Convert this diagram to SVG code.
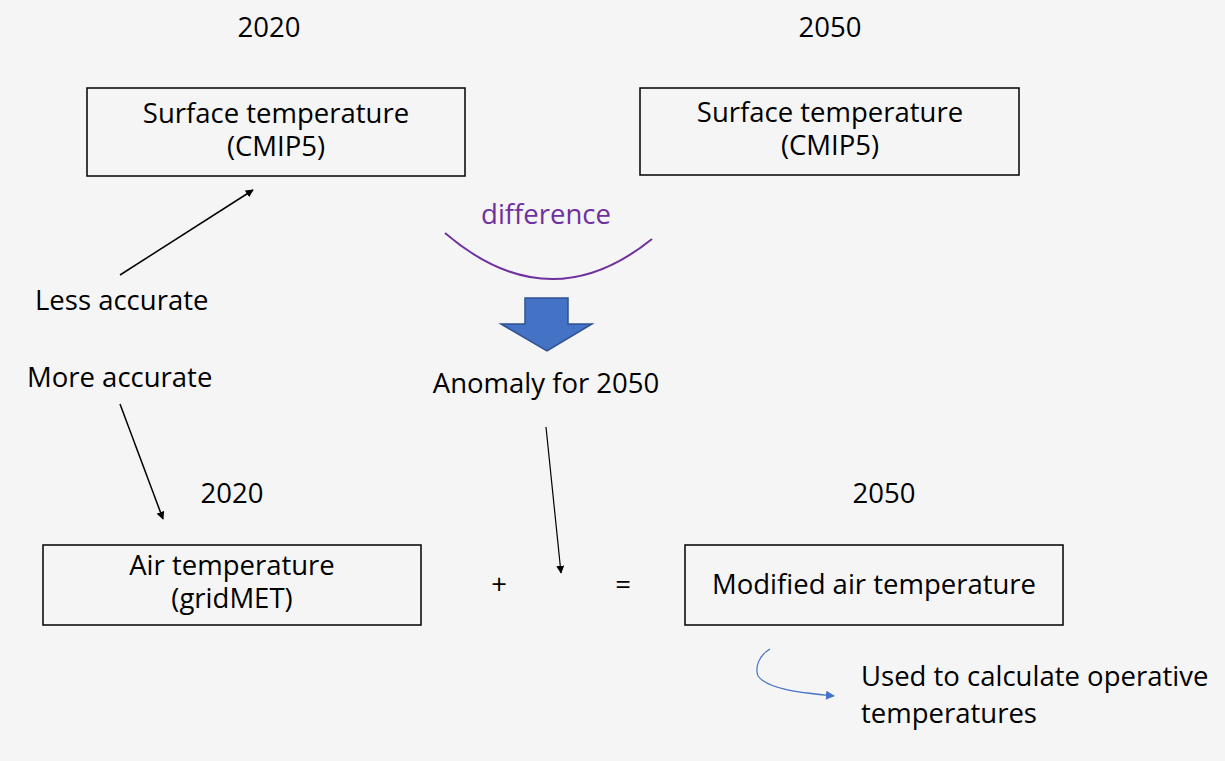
<svg xmlns="http://www.w3.org/2000/svg" width="1225" height="761" viewBox="0 0 1225 761">
<defs>
<style>
text{font-family:"Open Sans","Noto Sans","Liberation Sans",sans-serif;font-size:27.5px;fill:#000}
.c{text-anchor:middle}
.box{fill:none;stroke:#000;stroke-width:1.5}
.ln{fill:none;stroke:#000;stroke-width:1.5}
</style>
<marker id="ah" viewBox="0 0 10 10" refX="9" refY="5" markerWidth="8" markerHeight="8" markerUnits="userSpaceOnUse" orient="auto"><path d="M0,0L10,5L0,10z" fill="#000"/></marker>
<marker id="ahb" viewBox="0 0 10 10" refX="9" refY="5" markerWidth="9" markerHeight="9" markerUnits="userSpaceOnUse" orient="auto"><path d="M0,0L10,5L0,10z" fill="#4472C4"/></marker>
</defs>
<rect width="1225" height="761" fill="#F5F5F5"/>
<g id="labels">
<text class="c" x="269" y="37">2020</text>
<text class="c" x="830" y="37">2050</text>
<text class="c" x="232" y="503">2020</text>
<text class="c" x="884" y="503">2050</text>
<text x="35" y="310">Less accurate</text>
<text x="27" y="387">More accurate</text>
<text x="499" y="594" class="c">+</text>
<text x="623" y="594" class="c">=</text>
<text x="861" y="686">Used to calculate operative</text>
<text x="861" y="723">temperatures</text>
</g>
<g id="node-surface2020">
<rect class="box" x="87" y="88" width="378" height="88"/>
<text class="c" x="276" y="123">Surface temperature</text>
<text class="c" x="276" y="156">(CMIP5)</text>
</g>
<g id="node-surface2050">
<rect class="box" x="640" y="88" width="379" height="87"/>
<text class="c" x="830" y="122">Surface temperature</text>
<text class="c" x="830" y="155">(CMIP5)</text>
</g>
<g id="node-difference">
<text class="c" x="546" y="224" style="fill:#7030A0">difference</text>
<path d="M445,233 Q549,322 652,239" fill="none" stroke="#7030A0" stroke-width="2"/>
</g>
<g id="node-bigarrow">
<path d="M525,298H568V324H592L547,351L501,324H525Z" fill="#4472C4" stroke="#2F528F" stroke-width="1.5"/>
</g>
<g id="node-anomaly">
<text class="c" x="546" y="393">Anomaly for 2050</text>
</g>
<g id="node-air2020">
<rect class="box" x="43" y="545" width="378" height="80"/>
<text class="c" x="232" y="575">Air temperature</text>
<text class="c" x="232" y="608">(gridMET)</text>
</g>
<g id="node-modified">
<rect class="box" x="685" y="545" width="378" height="80"/>
<text class="c" x="874" y="594">Modified air temperature</text>
</g>
<g id="connectors">
<line class="ln" x1="120" y1="275" x2="253" y2="190" marker-end="url(#ah)"/>
<line class="ln" x1="120" y1="404" x2="163" y2="519" marker-end="url(#ah)"/>
<line class="ln" x1="546" y1="427" x2="561" y2="573" marker-end="url(#ah)" style="stroke-width:1.2"/>
<path d="M770,649 C758,656 755,668 758,676 C768,690 805,693 834,696" fill="none" stroke="#4472C4" stroke-width="1.2" marker-end="url(#ahb)"/>
</g>
</svg>
